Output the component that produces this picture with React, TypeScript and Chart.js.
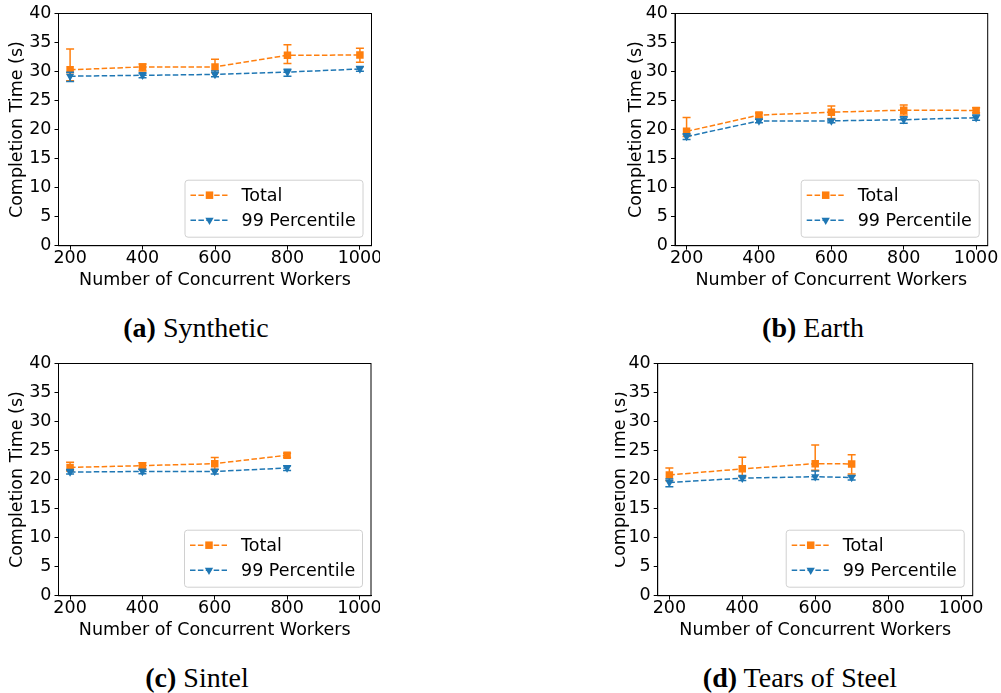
import React, { useEffect, useRef } from "react";
import { Chart, registerables } from "chart.js";

Chart.register(...registerables);

// ---- Series colours -------------------------------------------------------
const ORANGE = "#ff7f0e";
const BLUE = "#1f77b4";

// ---- Axis ticks -----------------------------------------------------------
const xTickValues = [200, 400, 600, 800, 1000];
const yTickValues = [0, 5, 10, 15, 20, 25, 30, 35, 40];
const X_MIN = 168;
const X_MAX = 1032;

const seriesLabels = ["Total", "99 Percentile"];

// ---- (a) Synthetic --------------------------------------------------------
const synthWorkers = [200, 400, 600, 800, 1000];
const synthTotal = [30.3, 30.8, 30.8, 32.8, 32.85];
const synthTotalLow = [28.4, 30.1, 29.8, 31.4, 31.6];
const synthTotalHigh = [33.9, 31.3, 32.1, 34.6, 34.0];
const synthP99 = [29.2, 29.35, 29.5, 29.9, 30.45];
const synthP99Low = [28.3, 28.95, 29.1, 29.2, 30.05];
const synthP99High = [29.9, 29.8, 30.1, 30.4, 30.85];

// ---- (b) Earth ------------------------------------------------------------
const earthWorkers = [200, 400, 600, 800, 1000];
const earthTotal = [19.7, 22.5, 23.0, 23.35, 23.3];
const earthTotalLow = [18.8, 22.1, 21.9, 22.5, 22.9];
const earthTotalHigh = [22.1, 22.85, 24.05, 24.25, 23.75];
const earthP99 = [18.8, 21.5, 21.5, 21.7, 22.05];
const earthP99Low = [18.3, 21.2, 21.2, 21.1, 21.6];
const earthP99High = [19.3, 21.8, 21.8, 22.2, 22.5];

// ---- (c) Sintel -----------------------------------------------------------
const sintelWorkers = [200, 400, 600, 800];
const sintelTotal = [22.1, 22.4, 22.75, 24.2];
const sintelTotalLow = [21.5, 21.9, 21.75, 23.8];
const sintelTotalHigh = [23.0, 22.9, 23.8, 24.55];
const sintelP99 = [21.3, 21.4, 21.4, 22.0];
const sintelP99Low = [20.95, 21.0, 20.95, 21.55];
const sintelP99High = [21.75, 21.8, 21.8, 22.4];

// ---- (d) Tears of Steel ---------------------------------------------------
const tearsWorkers = [200, 400, 600, 700];
const tearsTotal = [20.8, 21.85, 22.75, 22.7];
const tearsTotalLow = [19.8, 20.5, 21.6, 20.95];
const tearsTotalHigh = [22.0, 23.85, 25.95, 24.3];
const tearsP99 = [19.5, 20.25, 20.5, 20.35];
const tearsP99Low = [18.75, 19.85, 20.0, 19.95];
const tearsP99High = [20.1, 20.7, 21.5, 20.7];

// ---- Fonts ----------------------------------------------------------------
const SANS = "'DejaVu Sans', sans-serif";
const FONT_SIZE = 17.5;

// Reserved room for the axes (tick labels + titles)
const Y_AXIS_WIDTH = 58;
const X_AXIS_HEIGHT = 45.5;

type Box = { left: number; top: number; right: number; bottom: number };
type PanelSpec = {
  tag: string;
  name: string;
  workers: number[];
  total: number[];
  totalLow: number[];
  totalHigh: number[];
  p99: number[];
  p99Low: number[];
  p99High: number[];
  area: Box; // plot area in page pixels
  canvas: { left: number; top: number; width: number; height: number };
  clip: { left: number; right: number };
  yTitlePad: number;
  captionX: number;
  captionBaseline: number;
};

const panels: PanelSpec[] = [
  {
    tag: "(a)",
    name: "Synthetic",
    workers: synthWorkers,
    total: synthTotal,
    totalLow: synthTotalLow,
    totalHigh: synthTotalHigh,
    p99: synthP99,
    p99Low: synthP99Low,
    p99High: synthP99High,
    area: { left: 58.5, top: 13.3, right: 371.5, bottom: 245.7 },
    canvas: { left: 0, top: 0, width: 386, height: 300 },
    clip: { left: 0, right: 380 },
    yTitlePad: 6.5,
    captionX: 196,
    captionBaseline: 337,
  },
  {
    tag: "(b)",
    name: "Earth",
    workers: earthWorkers,
    total: earthTotal,
    totalLow: earthTotalLow,
    totalHigh: earthTotalHigh,
    p99: earthP99,
    p99Low: earthP99Low,
    p99High: earthP99High,
    area: { left: 675, top: 13.3, right: 987.7, bottom: 245.7 },
    canvas: { left: 615, top: 0, width: 386, height: 300 },
    clip: { left: 615, right: 1001 },
    yTitlePad: 9,
    captionX: 813,
    captionBaseline: 337,
  },
  {
    tag: "(c)",
    name: "Sintel",
    workers: sintelWorkers,
    total: sintelTotal,
    totalLow: sintelTotalLow,
    totalHigh: sintelTotalHigh,
    p99: sintelP99,
    p99Low: sintelP99Low,
    p99High: sintelP99High,
    area: { left: 58.5, top: 363.3, right: 371, bottom: 595.7 },
    canvas: { left: 0, top: 350, width: 386, height: 300 },
    clip: { left: 0, right: 380 },
    yTitlePad: 6.5,
    captionX: 197,
    captionBaseline: 687,
  },
  {
    tag: "(d)",
    name: "Tears of Steel",
    workers: tearsWorkers,
    total: tearsTotal,
    totalLow: tearsTotalLow,
    totalHigh: tearsTotalHigh,
    p99: tearsP99,
    p99Low: tearsP99Low,
    p99High: tearsP99High,
    area: { left: 657.7, top: 363.3, right: 972.7, bottom: 595.7 },
    canvas: { left: 600, top: 350, width: 401, height: 300 },
    clip: { left: 615, right: 1001 },
    yTitlePad: 10,
    captionX: 800,
    captionBaseline: 687,
  },
];

// ---- Marker drawing shared by the legend ---------------------------------
function drawSquare(ctx: CanvasRenderingContext2D, x: number, y: number, color: string) {
  const s = 7.5;
  ctx.fillStyle = color;
  ctx.fillRect(x - s / 2, y - s / 2, s, s);
}
function drawTriangleDown(ctx: CanvasRenderingContext2D, x: number, y: number, color: string) {
  const r = 4.8;
  ctx.fillStyle = color;
  ctx.beginPath();
  ctx.moveTo(x - r * 0.866, y - r * 0.5);
  ctx.lineTo(x + r * 0.866, y - r * 0.5);
  ctx.lineTo(x, y + r);
  ctx.closePath();
  ctx.fill();
}

// Vertical error bars with caps, drawn just beneath each series
const errorBarPlugin = {
  id: "errorBars",
  beforeDatasetDraw(chart: any, args: any) {
    const ds = chart.data.datasets[args.index];
    if (!ds.errLow || !ds.errHigh) return;
    const yScale = chart.scales.y;
    const ctx = chart.ctx as CanvasRenderingContext2D;
    const cap = 4;
    ctx.save();
    ctx.strokeStyle = ds.borderColor;
    ctx.lineWidth = 1.5;
    ctx.setLineDash([]);
    args.meta.data.forEach((pt: any, i: number) => {
      const x = pt.x;
      const yLo = yScale.getPixelForValue(ds.errLow[i]);
      const yHi = yScale.getPixelForValue(ds.errHigh[i]);
      ctx.beginPath();
      ctx.moveTo(x, yLo);
      ctx.lineTo(x, yHi);
      ctx.moveTo(x - cap, yLo);
      ctx.lineTo(x + cap, yLo);
      ctx.moveTo(x - cap, yHi);
      ctx.lineTo(x + cap, yHi);
      ctx.stroke();
    });
    ctx.restore();
  },
};

// Full rectangular frame around the plot area
const framePlugin = {
  id: "frame",
  afterDatasetsDraw(chart: any) {
    const { left, top, right, bottom } = chart.chartArea;
    const ctx = chart.ctx as CanvasRenderingContext2D;
    ctx.save();
    ctx.strokeStyle = "#000";
    ctx.lineWidth = 1;
    ctx.strokeRect(left, top, right - left, bottom - top);
    ctx.restore();
  },
};

// Legend box in the lower-right corner of the plot area
const cornerLegendPlugin = {
  id: "cornerLegend",
  afterDraw(chart: any) {
    const { right, bottom } = chart.chartArea;
    const ctx = chart.ctx as CanvasRenderingContext2D;
    const w = 178;
    const h = 57;
    const x0 = right - 9 - w;
    const y0 = bottom - 9 - h;
    ctx.save();
    ctx.beginPath();
    (ctx as any).roundRect(x0 + 0.5, y0 + 0.5, w, h, 3);
    ctx.fillStyle = "rgba(255,255,255,0.8)";
    ctx.fill();
    ctx.strokeStyle = "#d0d0d0";
    ctx.lineWidth = 1;
    ctx.stroke();

    const rows = [
      { label: seriesLabels[0], color: ORANGE, marker: drawSquare },
      { label: seriesLabels[1], color: BLUE, marker: drawTriangleDown },
    ];
    rows.forEach((row, i) => {
      const y = y0 + 15.5 + i * 25;
      ctx.strokeStyle = row.color;
      ctx.lineWidth = 1.5;
      ctx.setLineDash([5.5, 2.4]);
      ctx.beginPath();
      ctx.moveTo(x0 + 6, y);
      ctx.lineTo(x0 + 43, y);
      ctx.stroke();
      ctx.setLineDash([]);
      row.marker(ctx, x0 + 25, y, row.color);
      ctx.fillStyle = "#000";
      ctx.font = `${FONT_SIZE}px ${SANS}`;
      ctx.textBaseline = "middle";
      ctx.textAlign = "left";
      ctx.fillText(row.label, x0 + 57, y + 1.2);
    });
    ctx.restore();
  },
};

function Panel({ spec }: { spec: PanelSpec }) {
  const ref = useRef<HTMLCanvasElement | null>(null);

  useEffect(() => {
    const canvas = ref.current;
    if (!canvas) return;
    const { area, canvas: cv } = spec;
    const padding = {
      top: area.top - cv.top,
      left: area.left - cv.left - Y_AXIS_WIDTH,
      right: cv.left + cv.width - area.right,
      bottom: cv.top + cv.height - area.bottom - X_AXIS_HEIGHT,
    };
    const tickFont = { family: SANS, size: FONT_SIZE, lineHeight: 1.2 };

    const chart = new Chart(canvas, {
      type: "line",
      data: {
        datasets: [
          {
            label: seriesLabels[0],
            data: spec.workers.map((w, i) => ({ x: w, y: spec.total[i] })),
            errLow: spec.totalLow,
            errHigh: spec.totalHigh,
            borderColor: ORANGE,
            backgroundColor: ORANGE,
            borderWidth: 1.5,
            borderDash: [5.5, 2.4],
            pointStyle: "rect",
            pointRadius: 5.3,
            pointBackgroundColor: ORANGE,
            pointBorderWidth: 0,
            tension: 0,
            order: 1,
          } as any,
          {
            label: seriesLabels[1],
            data: spec.workers.map((w, i) => ({ x: w, y: spec.p99[i] })),
            errLow: spec.p99Low,
            errHigh: spec.p99High,
            borderColor: BLUE,
            backgroundColor: BLUE,
            borderWidth: 1.5,
            borderDash: [5.5, 2.4],
            pointStyle: "triangle",
            rotation: 180,
            pointRadius: 4.8,
            pointBackgroundColor: BLUE,
            pointBorderWidth: 0,
            tension: 0,
            order: 0,
          } as any,
        ],
      },
      options: {
        animation: false,
        responsive: false,
        devicePixelRatio: 1,
        layout: { autoPadding: false, padding },
        plugins: {
          legend: { display: false },
          tooltip: { enabled: false },
        },
        scales: {
          x: {
            type: "linear",
            min: X_MIN,
            max: X_MAX,
            afterBuildTicks: (scale: any) => {
              scale.ticks = xTickValues.map((v) => ({ value: v }));
            },
            afterFit: (scale: any) => {
              scale.height = X_AXIS_HEIGHT;
            },
            grid: {
              display: true,
              drawOnChartArea: false,
              drawTicks: true,
              tickLength: 4,
              tickColor: "#000",
              tickWidth: 1,
            },
            border: { display: true, color: "#000", width: 1 },
            ticks: {
              color: "#000",
              font: tickFont,
              padding: -1.5,
              maxRotation: 0,
              autoSkip: false,
              callback: (v: any) => String(v),
            },
            title: {
              display: true,
              text: "Number of Concurrent Workers",
              color: "#000",
              font: { family: SANS, size: FONT_SIZE, lineHeight: 1.2 },
              padding: { top: 0, bottom: 0 },
            },
          },
          y: {
            type: "linear",
            min: 0,
            max: 40,
            afterBuildTicks: (scale: any) => {
              scale.ticks = yTickValues.map((v) => ({ value: v }));
            },
            afterFit: (scale: any) => {
              scale.width = Y_AXIS_WIDTH;
            },
            grid: {
              display: true,
              drawOnChartArea: false,
              drawTicks: true,
              tickLength: 4,
              tickColor: "#000",
              tickWidth: 1,
            },
            border: { display: true, color: "#000", width: 1 },
            ticks: {
              color: "#000",
              font: tickFont,
              padding: 3,
              autoSkip: false,
              callback: (v: any) => String(v),
            },
            title: {
              display: true,
              text: "Completion Time (s)",
              color: "#000",
              font: { family: SANS, size: FONT_SIZE, lineHeight: 1.2 },
              padding: { top: spec.yTitlePad, bottom: 0 },
            },
          },
        },
      } as any,
      plugins: [errorBarPlugin, framePlugin, cornerLegendPlugin],
    });
    return () => chart.destroy();
  }, [spec]);

  const { canvas: cv, clip } = spec;
  return (
    <div
      style={{
        position: "absolute",
        left: clip.left,
        top: cv.top,
        width: clip.right - clip.left,
        height: cv.height,
        overflow: "hidden",
      }}
    >
      <canvas
        ref={ref}
        width={cv.width}
        height={cv.height}
        style={{
          position: "absolute",
          left: cv.left - clip.left,
          top: 0,
          width: cv.width,
          height: cv.height,
        }}
      />
    </div>
  );
}

function Caption({ spec }: { spec: PanelSpec }) {
  const size = 28;
  return (
    <div
      style={{
        position: "absolute",
        left: spec.captionX - 200,
        width: 400,
        top: spec.captionBaseline - 23.4,
        textAlign: "center",
        fontFamily: "'Liberation Serif', 'Times New Roman', serif",
        fontSize: size,
        lineHeight: `${size}px`,
        color: "#000",
        whiteSpace: "nowrap",
      }}
    >
      <span style={{ fontWeight: "bold" }}>{spec.tag}</span> {spec.name}
    </div>
  );
}

export default function App() {
  return (
    <div
      style={{
        position: "absolute",
        left: 0,
        top: 0,
        width: 1001,
        height: 693,
        background: "#fff",
        overflow: "hidden",
      }}
    >
      {panels.map((p) => (
        <Panel key={p.tag} spec={p} />
      ))}
      {panels.map((p) => (
        <Caption key={"c" + p.tag} spec={p} />
      ))}
    </div>
  );
}
